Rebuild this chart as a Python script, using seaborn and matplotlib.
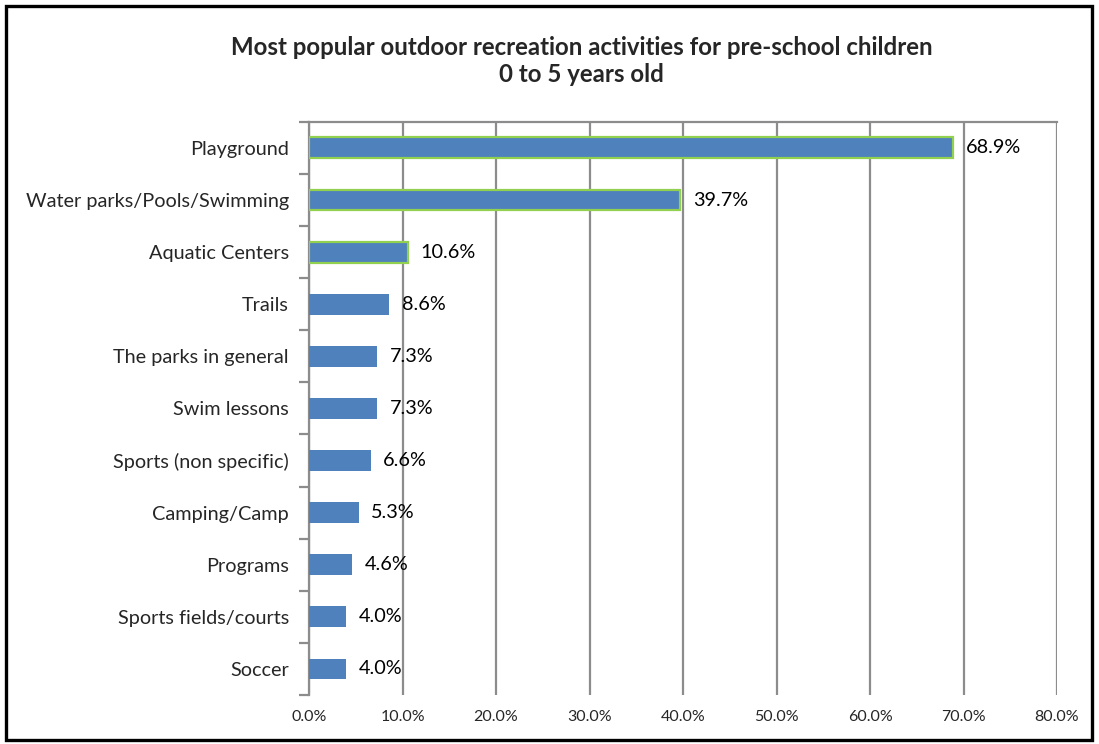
import matplotlib
matplotlib.use("Agg")
import matplotlib.pyplot as plt
import seaborn as sns
import pandas as pd
from matplotlib.patches import Rectangle
from matplotlib.ticker import FixedLocator

categories = [
    "Playground",
    "Water parks/Pools/Swimming",
    "Aquatic Centers",
    "Trails",
    "The parks in general",
    "Swim lessons",
    "Sports (non specific)",
    "Camping/Camp",
    "Programs",
    "Sports fields/courts",
    "Soccer",
]
values = [68.9, 39.7, 10.6, 8.6, 7.3, 7.3, 6.6, 5.3, 4.6, 4.0, 4.0]
highlighted = ["Playground", "Water parks/Pools/Swimming", "Aquatic Centers"]
x_ticks = [0, 10, 20, 30, 40, 50, 60, 70, 80]
title = "Most popular outdoor recreation activities for pre-school children\n0 to 5 years old"

sns.set_theme(style="white")
plt.rcParams["font.family"] = ["Lato", "DejaVu Sans"]

df = pd.DataFrame({"activity": categories, "pct": values})

fig = plt.figure(figsize=(10.99, 7.44), dpi=100)
ax = fig.add_axes([0.2812, 0.0659, 0.6806, 0.7703])

sns.barplot(data=df, x="pct", y="activity", order=categories, color="#4F81BD",
            saturation=1, width=0.4, ax=ax, zorder=3)

# light green outline on the three leading activities
for patch, cat in zip(ax.patches, categories):
    if cat in highlighted:
        patch.set_edgecolor("#92D050")
        patch.set_linewidth(1.6)
    else:
        patch.set_edgecolor("none")

for i, v in enumerate(values):
    ax.text(v + 1.35, i, f"{v:.1f}%", va="center", ha="left", fontsize=14.3,
            color="black", zorder=4)

ax.set_xlim(0, 80)
ax.set_ylim(len(categories) - 0.5, -0.5)
ax.set_xticks(x_ticks)
ax.set_xticklabels([f"{t:.1f}%" for t in x_ticks], fontsize=11.5)
ax.tick_params(axis="x", length=0, pad=11)
ax.xaxis.grid(True, color="#8C8C8C", linewidth=1.6, zorder=0)
ax.set_axisbelow(True)

# category labels centred on bars, tick marks between categories
ax.set_yticks(range(len(categories)))
ax.set_yticklabels(categories, fontsize=14.3)
ax.tick_params(axis="y", which="major", length=0, pad=14.5)
ax.yaxis.set_minor_locator(FixedLocator([i - 0.5 for i in range(len(categories) + 1)]))
ax.tick_params(axis="y", which="minor", length=7, width=1.6, color="#8C8C8C",
               direction="out", left=True)

ax.set_xlabel("")
ax.set_ylabel("")
for side in ["left", "top"]:
    ax.spines[side].set_color("#8C8C8C")
    ax.spines[side].set_linewidth(1.6)
ax.spines["right"].set_visible(False)
ax.spines["bottom"].set_visible(False)

fig.text(0.5295, 0.918, title, ha="center", va="center", fontsize=17.3,
         fontweight="bold", linespacing=1.2)

fig.patches.append(Rectangle((0.0055, 0.0055), 0.988, 0.986, transform=fig.transFigure,
                             fill=False, edgecolor="black", linewidth=2.4))

fig.savefig("out.png", dpi=100)
